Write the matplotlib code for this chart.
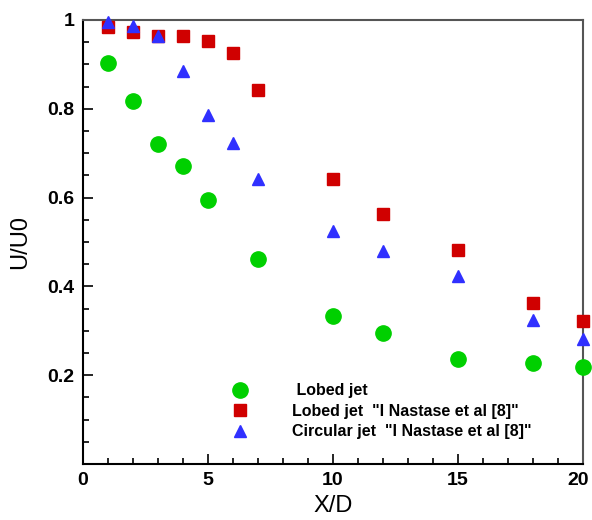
import matplotlib
matplotlib.use("Agg")
import matplotlib.pyplot as plt
import matplotlib.transforms as mtransforms
from matplotlib.ticker import MultipleLocator, FixedLocator

plt.rcParams['font.family'] = ['Liberation Sans', 'DejaVu Sans']

# X/D positions
x_lobed = [1, 2, 3, 4, 5, 7, 10, 12, 15, 18, 20]
x_nast = [1, 2, 3, 4, 5, 6, 7, 10, 12, 15, 18, 20]

# U/U0 values
u_lobed = [0.903, 0.818, 0.721, 0.671, 0.595, 0.462, 0.333, 0.295, 0.236, 0.228, 0.218]
u_lobed_nast = [0.984, 0.973, 0.964, 0.964, 0.953, 0.925, 0.842, 0.642, 0.563, 0.482, 0.363, 0.322]
u_circ_nast = [0.995, 0.986, 0.964, 0.885, 0.786, 0.723, 0.642, 0.525, 0.480, 0.423, 0.324, 0.282]

x_ticks = [0, 5, 10, 15, 20]
y_ticks = [0.2, 0.4, 0.6, 0.8, 1.0]
y_ticklabels = ['0.2', '0.4', '0.6', '0.8', '1']
labels = [' Lobed jet', 'Lobed jet  "I Nastase et al [8]"', 'Circular jet  "I Nastase et al [8]"']

fig = plt.figure(figsize=(5.92, 5.2), dpi=100)
ax = fig.add_axes([0.140, 0.1077, 0.845, 0.854])

ax.plot(x_lobed, u_lobed, 'o', color='#00d000', ms=11, mec='#00d000', label=labels[0], clip_on=False, zorder=3)
ax.plot(x_nast, u_lobed_nast, 's', color='#d00000', ms=8.5, mec='#d00000', label=labels[1], clip_on=False, zorder=3)
ax.plot(x_nast, u_circ_nast, '^', color='#3030ff', ms=9, mec='#3030ff', label=labels[2], clip_on=False, zorder=3)

ax.set_xlim(0, 20)
ax.set_ylim(0, 1)
ax.set_xticks(x_ticks)
ax.xaxis.set_minor_locator(MultipleLocator(1))
ax.set_yticks(y_ticks)
ax.set_yticklabels(y_ticklabels)
ax.yaxis.set_minor_locator(MultipleLocator(0.05))

ax.tick_params(which='both', direction='in', top=False, right=False, width=1.2, labelsize=14, pad=6)
ax.tick_params(which='major', length=7)
ax.tick_params(which='minor', length=4)

for side in ['left', 'bottom']:
    ax.spines[side].set_linewidth(1.5)
for side in ['top', 'right']:
    ax.spines[side].set_linewidth(1.5)
    ax.spines[side].set_color('#555555')

ax.set_xlabel('X/D', fontsize=17, labelpad=4)
ax.set_ylabel('U/U0', fontsize=17, labelpad=12)

leg = ax.legend(loc='upper left', bbox_to_anchor=(0.275, 0.2), frameon=False,
                prop={'size': 11.5, 'weight': 'bold'}, handlelength=1.5,
                handletextpad=2.5, labelspacing=0.35, borderpad=0, numpoints=1)

fig.canvas.draw()
for lab in ax.get_xticklabels() + ax.get_yticklabels():
    lab.set_fontweight('bold')
# keep the last x label inside the figure
last = ax.xaxis.get_major_ticks()[-1].label1
last.set_transform(last.get_transform() + mtransforms.ScaledTranslation(-5 / 100, 0, fig.dpi_scale_trans))

fig.savefig('out.png', dpi=100)
